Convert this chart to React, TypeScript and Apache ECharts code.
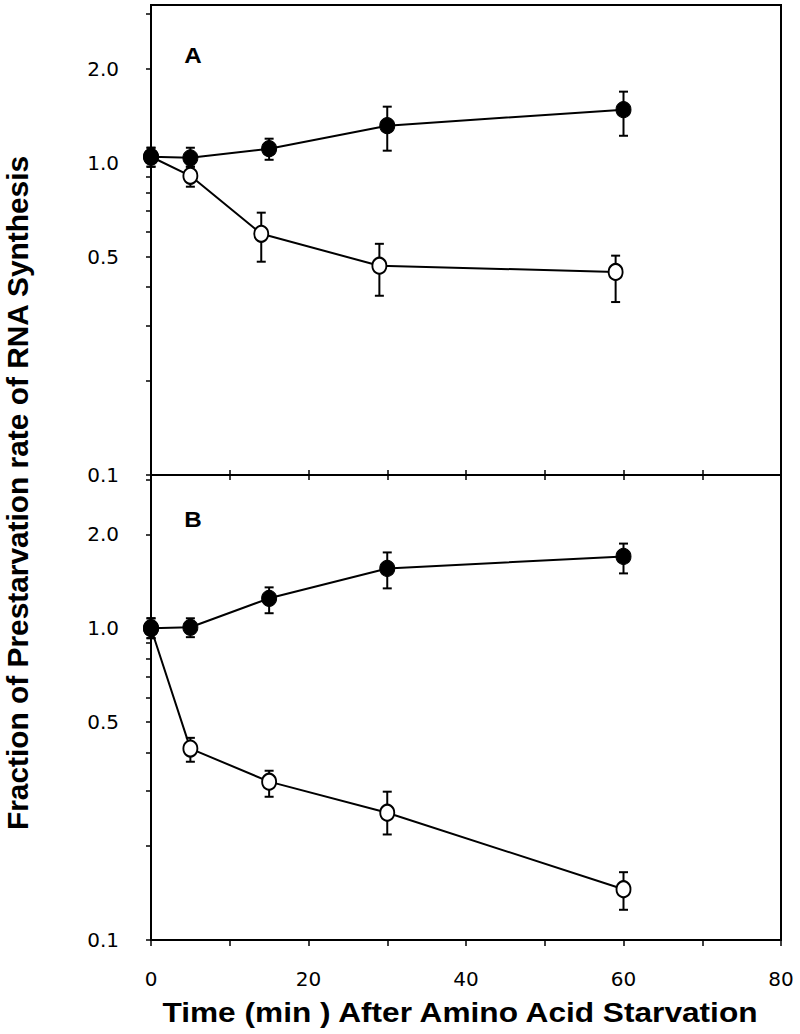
import React, { useEffect, useRef } from "react";
import * as echarts from "echarts";

// Panel A
const timesAFilled = [0, 5, 15, 30, 60];
const ratesAFilled = [1.045, 1.037, 1.109, 1.314, 1.479];
const lowAFilled = [0.971, 0.971, 1.022, 1.093, 1.22];
const highAFilled = [1.117, 1.117, 1.194, 1.512, 1.689];
const timesAOpen = [0, 5, 14, 29, 59];
const ratesAOpen = [1.045, 0.908, 0.592, 0.468, 0.447];
const lowAOpen = [0.971, 0.838, 0.482, 0.375, 0.358];
const highAOpen = [1.117, 0.971, 0.692, 0.55, 0.504];

// Panel B
const timesB = [0, 5, 15, 30, 60];
const ratesBFilled = [1.0, 1.007, 1.247, 1.555, 1.699];
const lowBFilled = [0.929, 0.936, 1.117, 1.342, 1.499];
const highBFilled = [1.076, 1.076, 1.352, 1.75, 1.868];
const ratesBOpen = [1.0, 0.411, 0.322, 0.256, 0.1455];
const lowBOpen = [0.929, 0.373, 0.288, 0.218, 0.125];
const highBOpen = [1.076, 0.445, 0.349, 0.299, 0.165];

const yLabelValues = [0.1, 0.5, 1, 2];
const yTickValues = [0.1, 0.2, 0.3, 0.4, 0.5, 0.6, 0.7, 0.8, 0.9, 1, 2, 3];
const xLabelValues = [0, 20, 40, 60, 80];

const FONT = "'Liberation Sans', Arial, sans-serif";
const TICKFONT = "'DejaVu Sans', sans-serif";

function pairs(xs: number[], ys: number[]) {
  return xs.map((x, i) => [x, ys[i]]);
}
function triples(xs: number[], lo: number[], hi: number[]) {
  return xs.map((x, i) => [x, lo[i], hi[i]]);
}

const errRender = (params: any, api: any) => {
  const x = api.value(0);
  const lo = api.coord([x, api.value(1)]);
  const hi = api.coord([x, api.value(2)]);
  const w = 4.5;
  const style = { stroke: "#000", lineWidth: 2 };
  return {
    type: "group",
    children: [
      { type: "line", shape: { x1: lo[0], y1: lo[1], x2: hi[0], y2: hi[1] }, style },
      { type: "line", shape: { x1: hi[0] - w, y1: hi[1], x2: hi[0] + w, y2: hi[1] }, style },
      { type: "line", shape: { x1: lo[0] - w, y1: lo[1], x2: lo[0] + w, y2: lo[1] }, style },
    ],
  };
};

export default function App() {
  const ref = useRef<HTMLDivElement>(null);
  useEffect(() => {
    if (!ref.current) return;
    const chart = echarts.init(ref.current, null, { renderer: "svg" });
    const yAxisBase = (gridIndex: number, max: number) => ({
      type: "log",
      logBase: 10,
      gridIndex,
      min: 0.1,
      max,
      axisLine: { show: true, lineStyle: { color: "#000", width: 2 } },
      axisTick: { show: true, inside: false, length: 5, customValues: yTickValues, lineStyle: { color: "#000", width: 1.5 } },
      axisLabel: {
        customValues: yLabelValues,
        formatter: (v: number) => Number(v).toFixed(1),
        color: "#000",
        fontSize: 20,
        fontFamily: TICKFONT,
        margin: 32,
        padding: [7, 0, 0, 0],
      },
      splitLine: { show: false },
    });
    const option: any = {
      animation: false,
      backgroundColor: "#fff",
      grid: [
        { left: 151, top: 5, width: 630, height: 470, show: true, borderColor: "#000", borderWidth: 2 },
        { left: 151, top: 475, width: 630, height: 465, show: true, borderColor: "#000", borderWidth: 2 },
      ],
      xAxis: [
        {
          type: "value", gridIndex: 0, min: 0, max: 80, interval: 10,
          axisLine: { show: true, lineStyle: { color: "#000", width: 2 } },
          axisTick: { show: true, inside: true, length: 5, lineStyle: { color: "#000", width: 1.5 } },
          axisLabel: { show: false },
          splitLine: { show: false },
        },
        {
          type: "value", gridIndex: 1, min: 0, max: 80, interval: 10,
          axisLine: { show: true, lineStyle: { color: "#000", width: 2 } },
          axisTick: { show: true, inside: false, length: 6, lineStyle: { color: "#000", width: 1.5 } },
          axisLabel: { customValues: xLabelValues, color: "#000", fontSize: 20, fontFamily: TICKFONT, margin: 29 },
          splitLine: { show: false },
        },
        {
          type: "value", gridIndex: 1, position: "top", min: 0, max: 80, interval: 10,
          axisLine: { show: false },
          axisTick: { show: true, inside: true, length: 5, lineStyle: { color: "#000", width: 1.5 } },
          axisLabel: { show: false },
          splitLine: { show: false },
        },
      ],
      yAxis: [yAxisBase(0, 3.2), yAxisBase(1, 3.1)],
      graphic: [
        { type: "text", x: 193, y: 55, scaleX: 1.1, style: { text: "A", font: `bold 22px ${FONT}`, fill: "#000", textAlign: "center", textVerticalAlign: "middle" } },
        { type: "text", x: 193, y: 519, scaleX: 1.1, style: { text: "B", font: `bold 22px ${FONT}`, fill: "#000", textAlign: "center", textVerticalAlign: "middle" } },
        {
          type: "text", x: 18, y: 493, rotation: Math.PI / 2, scaleX: 1.03,
          style: { text: "Fraction of Prestarvation rate of RNA Synthesis", font: `bold 29px ${FONT}`, fill: "#000", textAlign: "center", textVerticalAlign: "middle" },
        },
        {
          type: "text", x: 460, y: 1012, scaleX: 1.13,
          style: { text: "Time (min ) After Amino Acid Starvation", font: `bold 28px ${FONT}`, fill: "#000", textAlign: "center", textVerticalAlign: "middle" },
        },
      ],
      series: [
        { type: "custom", xAxisIndex: 0, yAxisIndex: 0, renderItem: errRender, encode: { x: 0, y: [1, 2] }, data: triples(timesAOpen, lowAOpen, highAOpen), z: 1 },
        { type: "custom", xAxisIndex: 0, yAxisIndex: 0, renderItem: errRender, encode: { x: 0, y: [1, 2] }, data: triples(timesAFilled, lowAFilled, highAFilled), z: 1 },
        {
          type: "line", xAxisIndex: 0, yAxisIndex: 0, data: pairs(timesAOpen, ratesAOpen), symbol: "circle", symbolSize: [14, 16],
          itemStyle: { color: "#fff", borderColor: "#000", borderWidth: 2 }, lineStyle: { color: "#000", width: 2 }, z: 2,
        },
        {
          type: "line", xAxisIndex: 0, yAxisIndex: 0, data: pairs(timesAFilled, ratesAFilled), symbol: "circle", symbolSize: [15, 16],
          itemStyle: { color: "#000", borderColor: "#000", borderWidth: 1 }, lineStyle: { color: "#000", width: 2 }, z: 3,
        },
        { type: "custom", xAxisIndex: 1, yAxisIndex: 1, renderItem: errRender, encode: { x: 0, y: [1, 2] }, data: triples(timesB, lowBOpen, highBOpen), z: 1 },
        { type: "custom", xAxisIndex: 1, yAxisIndex: 1, renderItem: errRender, encode: { x: 0, y: [1, 2] }, data: triples(timesB, lowBFilled, highBFilled), z: 1 },
        {
          type: "line", xAxisIndex: 1, yAxisIndex: 1, data: pairs(timesB, ratesBOpen), symbol: "circle", symbolSize: [14, 16],
          itemStyle: { color: "#fff", borderColor: "#000", borderWidth: 2 }, lineStyle: { color: "#000", width: 2 }, z: 2,
        },
        {
          type: "line", xAxisIndex: 1, yAxisIndex: 1, data: pairs(timesB, ratesBFilled), symbol: "circle", symbolSize: [15, 16],
          itemStyle: { color: "#000", borderColor: "#000", borderWidth: 1 }, lineStyle: { color: "#000", width: 2 }, z: 3,
        },
      ],
    };
    chart.setOption(option);
    return () => chart.dispose();
  }, []);
  return <div ref={ref} style={{ position: "absolute", left: 0, top: 0, width: 800, height: 1034 }} />;
}
